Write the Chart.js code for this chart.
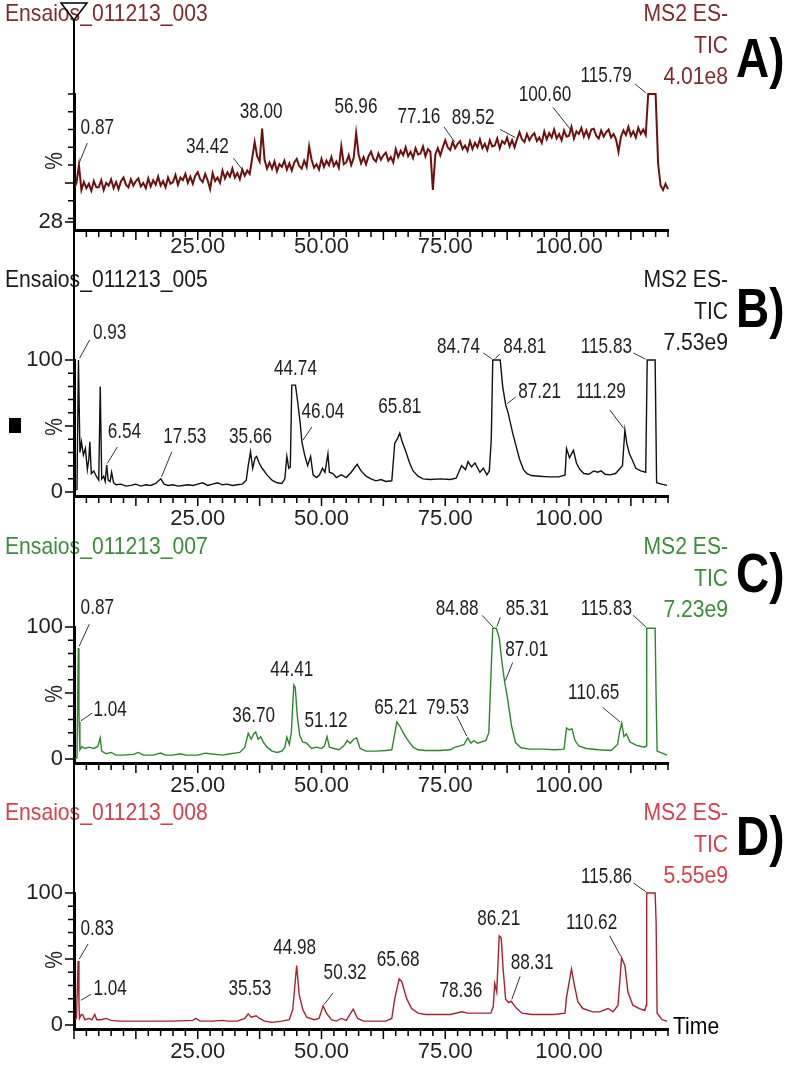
<!DOCTYPE html>
<html>
<head>
<meta charset="utf-8">
<script src="https://cdn.jsdelivr.net/npm/chart.js@4.4.0/dist/chart.umd.min.js"></script>
<style>
  body { margin: 0; background: #fff; width: 789px; height: 1076px; position: relative; overflow: hidden; }
  .panel { position: absolute; left: 0; width: 789px; }
  #cursor { position: absolute; left: 73px; top: 19px; width: 2px; height: 1010px; background: #000; }
  #marker { position: absolute; left: 60px; top: 2px; }
  #square { position: absolute; left: 9px; top: 418px; width: 12px; height: 15px; background: #000; }
</style>
</head>
<body>
<div class="panel" style="top:0;height:300px"><canvas id="chartA"></canvas></div>
<div class="panel" style="top:266px;height:300px"><canvas id="chartB"></canvas></div>
<div class="panel" style="top:533px;height:300px"><canvas id="chartC"></canvas></div>
<div class="panel" style="top:799px;height:277px"><canvas id="chartD"></canvas></div>
<div id="cursor"></div>
<svg id="marker" width="30" height="20"><polygon points="1,1 27,1 14,18" fill="none" stroke="#000" stroke-width="1.5"/></svg>
<div id="square"></div>
<script>
// 시간축 눈금
const xTickValues = [25, 50, 75, 100];

// A) Ensaios_011213_003 - 0.5분 간격 스캔 (%)
const scanStartA = 0;
const scanStepA = 0.5;
const intensityA = [
  46.5, 50, 60, 46, 50.5, 47, 49.5, 45.5, 51, 47.5,
  47.5, 51.5, 46, 50, 48.5, 52, 47, 50.5, 46.5, 51,
  53, 49, 47.5, 52, 48.5, 51, 52.5, 48, 50, 47,
  52.5, 48, 51.5, 49, 53.5, 48.5, 51, 47.5, 53, 49.5,
  50.5, 54.5, 49, 53, 51.5, 55, 50, 53.5, 49.5, 54,
  56, 52, 50.5, 55, 51.5, 46.5, 55.5, 51, 53, 50,
  57, 52.5, 56, 53.5, 58, 53, 55.5, 52, 57.5, 54,
  57, 55, 64, 73, 65, 62, 80.5, 63, 58, 61.5,
  58, 62, 56.5, 60.5, 59, 62.5, 57.5, 61, 57, 61.5,
  63.5, 59.5, 58, 62.5, 59, 70.5, 63, 58.5, 60.5, 57.5,
  63.5, 59, 62.5, 60, 64.5, 59.5, 62, 58.5, 70.5, 60.5,
  61.5, 65.5, 60, 64, 78, 66, 61, 64.5, 60.5, 65,
  67.5, 63.5, 62, 66.5, 63, 65.5, 67, 62.5, 64.5, 61.5,
  69, 64.5, 68, 65.5, 70, 65, 67.5, 64, 69.5, 66,
  66.5, 70.5, 65, 69, 67.5, 46, 66, 69.5, 65.5, 70,
  74, 70, 68.5, 73, 69.5, 72, 73.5, 69, 71, 68,
  73.5, 69, 72.5, 70, 74.5, 69.5, 72, 68.5, 74, 70.5,
  71, 75, 69.5, 73.5, 72, 75.5, 70.5, 74, 70, 74.5,
  78.5, 74.5, 73, 77.5, 74, 76.5, 78, 73.5, 75.5, 72.5,
  79, 74.5, 78, 75.5, 80, 75, 77.5, 74, 79.5, 76,
  76.5, 81.5, 75, 79, 77.5, 81, 76, 79.5, 75.5, 80,
  80.5, 76.5, 75, 79.5, 76, 78.5, 80, 75.5, 77.5, 74.5,
  67.5, 76, 79.5, 77, 81.5, 76.5, 79, 75.5, 81, 77.5,
  80, 77, 100, 100, 100, 100, 61, 48.5, 46, 49.5,
  46.5
];
const peakTimesA = [0.87, 34.42, 38.00, 56.96, 77.16, 89.52, 100.60, 115.79];
const peakHeightsA = [60, 56, 80.5, 78, 72, 75, 79, 100];

// B) Ensaios_011213_005 [분, %]
const traceB = [
  [0, 1], [0.6, 2], [0.9, 100], [1.2, 30], [1.5, 38], [1.9, 28], [2.3, 33], [2.7, 17], [3.0, 25],
  [3.2, 38], [3.5, 14], [4.0, 16], [4.5, 12], [5.0, 9], [5.3, 80], [5.6, 10], [6.0, 12], [6.3, 8],
  [6.6, 20.5], [6.9, 9], [7.3, 8], [7.6, 15], [8.0, 7], [8.5, 5.5], [9.5, 6], [10.5, 4.5], [11.5, 5],
  [12.5, 6], [13.5, 4.5], [14.5, 5.5], [15.5, 5], [16.5, 6.5], [17.53, 10], [18.2, 6], [19, 5],
  [20, 5.5], [21, 4.5], [22, 5], [23, 5.5], [24, 5], [25, 6], [26, 7], [27, 5], [28, 6], [29, 7],
  [30, 5.5], [31, 6], [32, 5], [33, 5.5], [34, 6], [34.8, 9], [35.2, 20], [35.66, 30.5], [36.1, 18],
  [36.6, 26], [36.9, 27], [37.4, 22], [38, 18], [39, 13], [40, 9], [41, 7], [42, 6.5], [42.6, 10],
  [43, 27], [43.4, 18], [43.7, 19], [44.0, 81], [44.74, 81], [45.2, 68], [45.7, 52], [46.04, 38],
  [46.6, 28], [47.2, 20], [47.8, 27], [48.3, 13], [49, 11], [49.6, 13], [50.2, 18], [50.7, 15],
  [51.3, 29], [51.6, 15], [52.3, 14], [53, 11], [54, 13], [55, 11], [56, 15], [57.2, 21], [58, 16],
  [59, 12], [60, 10], [61, 8.5], [62, 9.5], [63, 8], [64.2, 8.5], [64.8, 37], [65.3, 40],
  [65.81, 44.6], [66.3, 38], [67, 31], [67.8, 22], [68.5, 16], [69.5, 12], [70.5, 10], [72, 9.5],
  [74, 10], [76, 9.5], [77.2, 10.5], [78.3, 20], [79.1, 17], [79.6, 23], [80.3, 19], [81, 22],
  [82, 15], [82.7, 18], [83.4, 13], [83.9, 16], [84.3, 40], [84.6, 100], [86.1, 100], [86.6, 80],
  [87.21, 66], [87.7, 60], [88.6, 45], [89.3, 35], [90, 25], [90.8, 17], [91.5, 14], [92.4, 12.5],
  [94, 12], [96, 11.5], [98, 11.5], [99.2, 13], [99.5, 33], [100.1, 26], [100.9, 31.6], [101.5, 22],
  [102.2, 17], [103, 14], [104, 13.5], [105, 16], [105.8, 15], [106.5, 16], [107.3, 13.5],
  [108.3, 13], [109.4, 14], [110.8, 20], [111.29, 47], [111.7, 36.5], [112.2, 29], [112.7, 25],
  [113.5, 18], [114.5, 16], [115.5, 15], [115.8, 100], [117.4, 100], [117.7, 7], [118.7, 6], [119.8, 5]
];
const peakTimesB = [0.93, 6.54, 17.53, 35.66, 44.74, 46.04, 65.81, 84.74, 84.81, 87.21, 111.29, 115.83];
const peakHeightsB = [100, 20.5, 10, 30.5, 81, 38, 44.6, 100, 100, 66, 47, 100];

// C) Ensaios_011213_007 [분, %]
const traceC = [
  [0, 0], [0.6, 1], [0.87, 84], [1.0, 40], [1.04, 28], [1.2, 7], [1.6, 9.5], [2.2, 8], [3, 9], [4, 8],
  [4.8, 9.5], [5.3, 16], [5.6, 6], [6.5, 4], [7.5, 5], [8.5, 3], [10, 3], [12, 3.5], [13, 5], [14, 3],
  [16, 3], [17.5, 4.5], [18.5, 3], [20, 3], [21.5, 4], [22.5, 3], [25, 3], [26.5, 4.5], [27.5, 4],
  [30, 3], [31.5, 4], [32.5, 4.5], [33.5, 5], [34.5, 9], [35.2, 19.5], [35.8, 15], [36.3, 19],
  [36.7, 20.5], [37.2, 15], [37.7, 17], [38.3, 12.5], [39, 9], [40, 6], [41, 5], [42, 6], [42.6, 9],
  [43, 16.5], [43.5, 11], [43.9, 20], [44.41, 56], [44.7, 54], [45.1, 33], [45.6, 18], [46.2, 13],
  [47, 12], [48, 8], [49, 9], [50, 8], [50.6, 10], [51.12, 17], [51.6, 9], [52.5, 8], [53.5, 7],
  [54.5, 10], [55.2, 14], [55.8, 12], [56.5, 15], [57.1, 16], [57.8, 8], [59, 6], [61, 6], [63, 6.5],
  [64.2, 7], [64.6, 15], [65.21, 28], [65.8, 25], [66.5, 20], [67.3, 15], [68.5, 9], [69.5, 7],
  [71, 6.5], [74, 6.5], [76, 7], [77, 9], [78, 10], [78.8, 11], [79.53, 16], [80.2, 12], [80.8, 14],
  [81.5, 12], [82.3, 13], [83.2, 14], [83.8, 20], [84.2, 60], [84.6, 99], [85.3, 99], [85.9, 92],
  [86.4, 75], [87.01, 58], [87.5, 48], [88.4, 25], [89.2, 12.5], [90.3, 8.5], [92, 7.5], [95, 7.5],
  [97, 7], [99, 7.5], [99.5, 23.5], [100.1, 22], [100.6, 23], [101.2, 14], [102, 10], [103.5, 8],
  [106, 7], [108.5, 6.5], [109.8, 11], [110.3, 22], [110.65, 27], [111.1, 17], [111.6, 19],
  [112.3, 13], [113.5, 10.5], [115.2, 9], [115.6, 10], [115.7, 99], [117.4, 99], [117.6, 47],
  [117.8, 6], [119.8, 3]
];
const peakTimesC = [0.87, 1.04, 36.70, 44.41, 51.12, 65.21, 79.53, 84.88, 85.31, 87.01, 110.65, 115.83];
const peakHeightsC = [84, 28, 20.5, 56, 17, 28, 16, 99, 99, 58, 27, 99];

// D) Ensaios_011213_008 [분, %]
const traceD = [
  [0, 4.5], [0.5, 5], [0.83, 48.5], [1.0, 18], [1.1, 5], [1.5, 8], [1.8, 7.5], [2.2, 4], [3, 5],
  [3.6, 4], [4.2, 8], [4.6, 4], [5.5, 4], [6.5, 5], [7.5, 3.5], [9, 3], [12, 3], [15, 3], [18, 3],
  [20, 3], [24, 3.5], [24.6, 5], [25.5, 3], [28, 3], [30, 3.5], [31, 3], [33, 3], [34.5, 5],
  [35.2, 8.5], [35.8, 6], [36.8, 7], [37.5, 5], [38.5, 3], [40, 2], [42, 3], [43.5, 4], [44.2, 12],
  [44.98, 45], [45.5, 23], [46.2, 12], [47, 6], [48.5, 4], [49.5, 5], [50.32, 14.5], [51, 9],
  [52, 4], [53, 3], [54, 5], [55, 3.5], [56.4, 12], [57.3, 5], [58.5, 3], [61, 3], [63, 3],
  [64.2, 5], [64.8, 20], [65.68, 35], [66.2, 33], [67.2, 20], [68.2, 12.5], [69.5, 9], [71, 8],
  [74, 8], [76, 8], [78.36, 10], [79.5, 9], [82, 9], [84.2, 9], [84.7, 14], [85, 31.5], [85.4, 25],
  [85.9, 67.5], [86.3, 66], [86.7, 42], [87.2, 19.5], [87.8, 17], [88.31, 18], [89.3, 13],
  [90.5, 9], [92.5, 8], [97, 8], [99.2, 9], [99.5, 21], [100.5, 42.5], [101.1, 30], [101.8, 17.5],
  [102.8, 12.5], [104.8, 10], [106.2, 10], [107.9, 12.5], [108.9, 10], [109.9, 15], [110.62, 51],
  [111.3, 45], [111.9, 25], [112.9, 15], [114.2, 12.5], [115.3, 11], [115.6, 15], [115.7, 100],
  [117.4, 100], [117.6, 78], [117.8, 9], [118.8, 4], [119.8, 3]
];
const peakTimesD = [0.83, 1.04, 35.53, 44.98, 50.32, 65.68, 78.36, 86.21, 88.31, 110.62, 115.86];
const peakHeightsD = [48.5, 18, 8.5, 45, 14.5, 35, 10, 67.5, 18, 51, 100];

// 라벨 배치 (꼭짓점 기준 픽셀 오프셋: 글자 중심 dx, dy / 지시선 시작 lx, ly)
const labelLayoutA = [[19, -37, 9, -22], [-37, -25, -11, -14], [-1, -17], [0, -26], [-37, -27, -12, -17], [-44, -21, -17, -9], [-27, -36, -19, -24], [-41, -18, -12, -10]];
const labelLayoutB = [[31, -27, 11, -20], [18, -33, 11, -18], [24, -42, 11, -27], [0, -15], [0, -16], [21, -30, 10, -15], [0, -26], [-35, -13, -10, -7], [31, -13, 6, -6], [34, -13, 10, -8], [-24, -38, -15, -20], [-41, -13, -14, -7]];
const labelLayoutC = [[19, -40, 11, -24], [31, -12, 13, -9], [-2, -16], [-2, -15], [-1, -16], [-1, -14], [-20, -30, -11, -22], [-37, -19, -12, -13], [31, -19, 4, -11], [22, -33, 8, -20], [-28, -30, -19, -16], [-41, -19, -14, -13]];
const labelLayoutD = [[19, -32, 10, -17], [31, -12, 12, -7], [0, -25], [-2, -18], [22, -33, 10, -13], [-1, -19], [-1, -21], [-2, -17], [21, -38, 9, -25], [-30, -35, -12, -22], [-41, -16, -14, -10]];

const FONT = '"Liberation Sans", Arial, sans-serif';
const TICK_FONT = '"Liberation Sans Narrow", "Liberation Sans", Arial, sans-serif';
const headStyle = { size: 24, squeeze: 0.88 };
const peakStyle = { size: 22, squeeze: 0.78, color: '#1e1e1e', align: 'center' };

// 가로로 좁힌 글자 그리기
function drawText(ctx, str, x, y, o) {
  const opt = Object.assign({ size: 23, align: 'left', color: '#222', bold: false, squeeze: 0.86 }, o || {});
  ctx.save();
  ctx.font = (opt.bold ? 'bold ' : '') + opt.size + 'px ' + FONT;
  ctx.fillStyle = opt.color;
  ctx.textBaseline = 'middle';
  ctx.textAlign = opt.align;
  ctx.translate(x, y);
  ctx.scale(opt.squeeze, 1);
  ctx.fillText(str, 0, 0);
  ctx.restore();
}

function annotator(cfg) {
  return {
    id: 'annot' + cfg.letter,
    afterDatasetsDraw(chart) {
      const ctx = chart.ctx;
      const xs = chart.scales.x, ys = chart.scales.y;
      const area = chart.chartArea;
      const y100 = ys.getPixelForValue(100);

      // 축 눈금
      ctx.save();
      ctx.strokeStyle = '#000';
      ctx.lineWidth = 1.5;
      ctx.beginPath();
      for (let t = 0; t <= 120; t += 2.5) {
        const px = xs.getPixelForValue(t);
        const len = t % 12.5 === 0 ? 9 : 6;
        ctx.moveTo(px, area.bottom + 1);
        ctx.lineTo(px, area.bottom + 1 + len);
      }
      cfg.yMarks.forEach(v => {
        const py = ys.getPixelForValue(v);
        const len = cfg.yLabels.includes(v) || v === 50 ? 8 : 5;
        ctx.moveTo(area.left - 1, py);
        ctx.lineTo(area.left - 1 - len, py);
      });
      ctx.stroke();
      ctx.restore();

      // % 표시
      ctx.save();
      ctx.translate(56, y100 + 67);
      ctx.rotate(-Math.PI / 2);
      drawText(ctx, '%', 0, 0, { align: 'center', size: 23 });
      ctx.restore();

      // 피크 라벨
      cfg.peakTimes.forEach((t, i) => {
        const ax = xs.getPixelForValue(t);
        const ay = ys.getPixelForValue(cfg.peakHeights[i]);
        const lay = cfg.layout[i];
        drawText(ctx, t.toFixed(2), ax + lay[0], ay + lay[1], peakStyle);
        if (lay.length > 2) {
          const d = Math.hypot(lay[2], lay[3]);
          ctx.save();
          ctx.strokeStyle = '#333';
          ctx.lineWidth = 1;
          ctx.beginPath();
          ctx.moveTo(ax + lay[2], ay + lay[3]);
          ctx.lineTo(ax + lay[2] * 2 / d, ay + lay[3] * 2 / d);
          ctx.stroke();
          ctx.restore();
        }
      });

      // 머리글
      const head = Object.assign({}, headStyle, { color: cfg.textColor });
      drawText(ctx, cfg.name, 5, y100 - 80, head);
      drawText(ctx, 'MS2 ES-', 728, y100 - 80, Object.assign({}, head, { align: 'right' }));
      drawText(ctx, 'TIC', 728, y100 - 48, Object.assign({}, head, { align: 'right' }));
      drawText(ctx, cfg.scaleText, 728, y100 - 17, Object.assign({}, head, { align: 'right' }));
      drawText(ctx, cfg.letter, 736, cfg.letterY, { size: 56, bold: true, color: '#000', squeeze: 0.82 });
      if (cfg.timeLabel) drawText(ctx, 'Time', 673, area.bottom - 2, { color: '#000', size: 24, squeeze: 0.88 });
    }
  };
}

function makePanel(id, cfg) {
  new Chart(document.getElementById(id), {
    type: 'line',
    data: {
      datasets: [{
        data: cfg.points,
        borderColor: cfg.lineColor,
        borderWidth: cfg.lineWidth,
        pointRadius: 0,
        tension: 0,
        fill: false,
        clip: 6
      }]
    },
    options: {
      responsive: true,
      maintainAspectRatio: false,
      animation: false,
      events: [],
      layout: { padding: { top: 94, right: 121, left: 0, bottom: 0 } },
      plugins: { legend: { display: false }, tooltip: { enabled: false } },
      scales: {
        x: {
          type: 'linear', min: 0, max: 120,
          afterFit: s => { s.height = cfg.height - 230; },
          afterBuildTicks: s => { s.ticks = xTickValues.map(v => ({ value: v })); },
          grid: { display: false, drawTicks: false },
          border: { color: '#000', width: 3 },
          ticks: { callback: v => v.toFixed(2), color: '#222', padding: cfg.xPad, maxRotation: 0, autoSkip: false, font: { family: TICK_FONT, size: 22 } }
        },
        y: {
          type: 'linear', min: cfg.yMin, max: 100,
          afterFit: s => { s.width = 74; },
          afterBuildTicks: s => { s.ticks = cfg.yLabels.map(v => ({ value: v })); },
          grid: { display: false, drawTicks: false },
          border: { color: '#000', width: 3 },
          ticks: { callback: v => String(v), color: '#222', padding: 11, font: { family: TICK_FONT, size: 22 } }
        }
      }
    },
    plugins: [annotator(cfg)]
  });
}

const pointsA = intensityA.map((v, i) => ({ x: scanStartA + i * scanStepA, y: v }));
const toPoints = tr => tr.map(p => ({ x: p[0], y: p[1] }));
const marks0to100 = [0, 10, 20, 30, 40, 50, 60, 70, 80, 90, 100];

makePanel('chartA', {
  points: pointsA, lineColor: '#6e1010', lineWidth: 2, height: 300, yMin: 23.5, xPad: 4,
  yLabels: [28], yMarks: [28, 30, 40, 50, 60, 70, 80, 90, 100],
  peakTimes: peakTimesA, peakHeights: peakHeightsA, layout: labelLayoutA,
  name: 'Ensaios_011213_003', scaleText: '4.01e8', letter: 'A)', letterY: 62, textColor: '#7d2b2b'
});
makePanel('chartB', {
  points: toPoints(traceB), lineColor: '#111111', lineWidth: 1.4, height: 300, yMin: -3, xPad: 10,
  yLabels: [0, 100], yMarks: marks0to100,
  peakTimes: peakTimesB, peakHeights: peakHeightsB, layout: labelLayoutB,
  name: 'Ensaios_011213_005', scaleText: '7.53e9', letter: 'B)', letterY: 46, textColor: '#1a1a1a'
});
makePanel('chartC', {
  points: toPoints(traceC), lineColor: '#2f852f', lineWidth: 1.4, height: 300, yMin: -3, xPad: 10,
  yLabels: [0, 100], yMarks: marks0to100,
  peakTimes: peakTimesC, peakHeights: peakHeightsC, layout: labelLayoutC,
  name: 'Ensaios_011213_007', scaleText: '7.23e9', letter: 'C)', letterY: 44, textColor: '#3d8c3d'
});
makePanel('chartD', {
  points: toPoints(traceD), lineColor: '#a52330', lineWidth: 1.4, height: 277, yMin: -3, xPad: 10,
  yLabels: [0, 100], yMarks: marks0to100,
  peakTimes: peakTimesD, peakHeights: peakHeightsD, layout: labelLayoutD,
  name: 'Ensaios_011213_008', scaleText: '5.55e9', letter: 'D)', letterY: 41, textColor: '#d4404c', timeLabel: true
});
</script>
</body>
</html>
